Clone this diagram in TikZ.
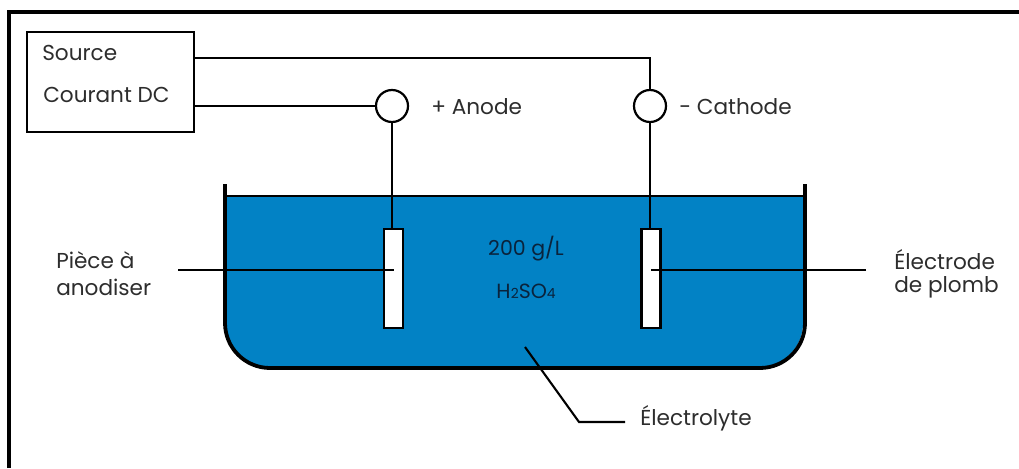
\documentclass[tikz,border=0pt]{standalone}
\usepackage{fontspec}
\setmainfont{Poppins}
\definecolor{water}{RGB}{2,130,197}
\definecolor{txt}{RGB}{45,45,45}
\definecolor{txtb}{RGB}{10,35,60}
\tikzset{
 x=0.75pt,y=-0.75pt,
 wire/.style={draw=black,line width=2.1pt*0.75},
 term/.style={circle,draw=black,line width=2.2pt*0.75,fill=white,minimum size=32*0.75pt,inner sep=0pt},
 elec/.style={rectangle,draw=black,line width=2.2pt*0.75,fill=white,minimum width=19*0.75pt,minimum height=99*0.75pt,inner sep=0pt},
 lab/.style={text=txt,font=\fontsize{16.2pt}{18pt}\selectfont,inner sep=0pt,anchor=west},
 lablue/.style={text=txtb,font=\fontsize{15.4pt}{18pt}\selectfont,inner sep=0pt},
}
\begin{document}
\begin{tikzpicture}
\useasboundingbox (0,0) rectangle (1019,468);
\fill[white] (0,0) rectangle (1019,468);
% frame
\draw[line width=4pt*0.75,line cap=butt] (9,468) -- (9,12) -- (1019,12);
% tank
\fill[water] (226,196) -- (803,196) -- (803,323) arc[start angle=0,end angle=90,radius=44] -- (270,367) arc[start angle=90,end angle=180,radius=44] -- cycle;
\draw[line width=1.4pt*0.75] (225,196) -- (804,196);
\draw[line width=3.8pt*0.75] (225,184) -- (225,323) arc[start angle=180,end angle=90,radius=45] -- (760,368) arc[start angle=90,end angle=0,radius=45] -- (805,184);
% source
\node[draw=black,line width=2.2pt*0.75,fill=white,minimum width=167*0.75pt,minimum height=100*0.75pt,inner sep=0pt] (src) at (110.5,82) {};
\node[lab] (s1) at (42,53) {Source};
\node[lab] (s2) at (43,95) {Courant DC};
% terminals
\node[term] (an) at (392,106) {};
\node[term] (ca) at (650,106) {};
\node[lab] (anl) at (431,107) {+ Anode};
\node[lab] (cal) at (679,107) {- Cathode};
% electrodes
\node[elec] (e1) at (393.5,278.5) {};
\node[elec] (e2) at (651,278.5) {};
% wires
\coordinate (sa) at (src.east |- 0,58);
\coordinate (sb) at (src.east |- an);
\draw[wire] (sa) -| (ca.north);
\draw[wire] (sb) -- (an.west);
\draw[wire] (an.south) -- (an.south |- e1.north);
\draw[wire] (ca.south) -- (ca.south |- e2.north);
% leaders
\coordinate (l1) at (178,270);
\coordinate (l1e) at (e1.center |- l1);
\coordinate (l2) at (866,270);
\coordinate (l2e) at (e2.center |- l2);
\draw[wire] (l1) -- (l1e);
\draw[wire] (l2) -- (l2e);
\coordinate (l3a) at (525,347);
\coordinate (l3b) at (579,422);
\coordinate (l3c) at (625,422);
\draw[wire] (l3a) -- (l3b) -- (l3c);
% texts
\node[lab] (p1) at (56,260) {Pièce à};
\node[lab] (p2) at (56,287) {anodiser};
\node[lab] (q1) at (894,260) {Électrode};
\node[lab] (q2) at (894,287) {de plomb};
\node[lab] (el) at (640,418) {Électrolyte};
\node[lablue] (c1) at (526,249) {200 g/L};
\node[lablue] (c2) at (526,291) {H\kern0.2pt{\fontsize{10.4pt}{12pt}\selectfont 2}SO{\fontsize{10.4pt}{12pt}\selectfont 4}};
\end{tikzpicture}
\end{document}
